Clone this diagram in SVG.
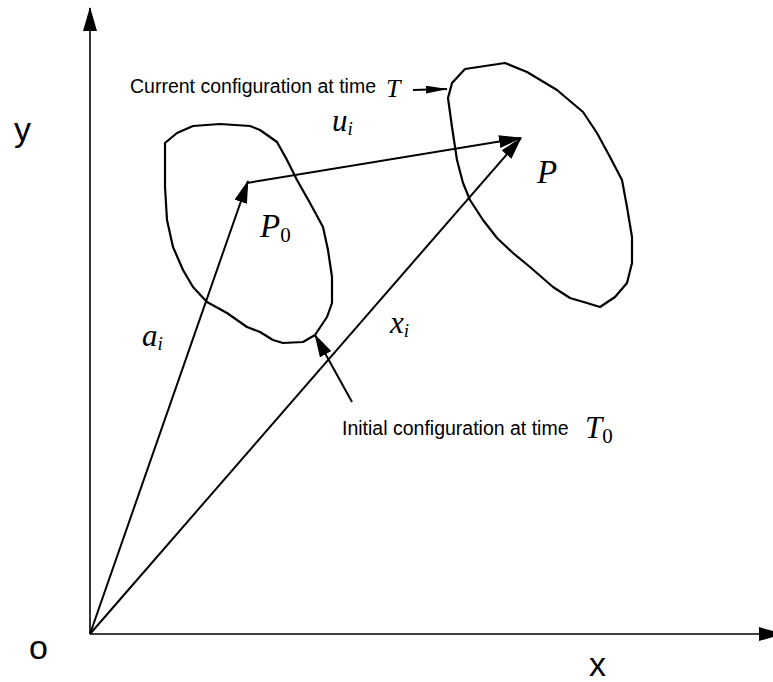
<svg xmlns="http://www.w3.org/2000/svg" width="773" height="682" viewBox="0 0 773 682">
<style>
.ax{stroke:#000;stroke-width:1.6;fill:none}
.vec{stroke:#000;stroke-width:2;fill:none}
.blob{stroke:#000;stroke-width:2.2;fill:none;stroke-linejoin:round}
.lbl{font-family:"Liberation Sans",Arial,sans-serif;font-size:19.5px;fill:#000}
.axl{font-family:"Liberation Sans",Arial,sans-serif;font-size:34px;fill:#000}
.m{font-family:"Liberation Serif","Times New Roman",serif;font-style:italic;fill:#000}
.sub{font-family:"Liberation Serif","Times New Roman",serif;font-style:normal;fill:#000}
</style>
<defs>
<marker id="ah" viewBox="0 0 23 13" markerWidth="23" markerHeight="13" refX="22" refY="6.5" orient="auto" markerUnits="userSpaceOnUse"><path d="M0,0 L23,6.5 L0,13 Z" fill="#000"/></marker>
<marker id="axh" viewBox="0 0 24 14" markerWidth="24" markerHeight="14" refX="23" refY="7" orient="auto" markerUnits="userSpaceOnUse"><path d="M0,0 L24,7 L0,14 Z" fill="#000"/></marker>
<marker id="sh" viewBox="0 0 22 8" markerWidth="22" markerHeight="8" refX="21" refY="4" orient="auto" markerUnits="userSpaceOnUse"><path d="M0,0 L22,4 L0,8 Z" fill="#000"/></marker>
</defs>
<rect width="773" height="682" fill="#fff"/>
<g id="axes">
<line class="ax" x1="90" y1="634" x2="90" y2="8" marker-end="url(#axh)"/>
<line class="ax" x1="90" y1="634" x2="782" y2="634" marker-end="url(#axh)"/>
<text class="axl" x="14" y="141">y</text>
<text class="axl" x="29" y="659">o</text>
<text class="axl" x="589" y="676">x</text>
</g>
<g id="initial-body">
<path class="blob" d="M177,133 L193,126 L220,124 L250,126 L260,130 L277,142 L287,160 L297,180 L310,203 L323,227 L328,250 L332,277 L332,303 L327,317 L315,335 L303,342 L283,343 L273,340 L260,332 L247,327 L227,313 L207,302 L193,287 L183,270 L173,247 L167,220 L165,187 L165,143 Z"/>
<text class="m" x="260" y="237" font-size="33">P<tspan class="sub" font-size="21" dy="5">0</tspan></text>
</g>
<g id="current-body">
<path class="blob" d="M465,69 L505,63 L527,72 L557,90 L583,112 L597,133 L610,157 L622,180 L627,207 L632,237 L632,263 L627,283 L615,297 L600,307 L587,303 L570,298 L553,287 L530,267 L513,253 L497,238 L483,220 L470,200 L463,183 L457,160 L452,127 L448,98 L452,83 Z"/>
<text class="m" x="537" y="183" font-size="33">P</text>
</g>
<g id="connectors">
<line class="vec" x1="90" y1="634" x2="248" y2="181" marker-end="url(#ah)"/>
<line class="vec" x1="90" y1="634" x2="521" y2="138" marker-end="url(#ah)"/>
<line class="vec" x1="247" y1="183" x2="521" y2="138" marker-end="url(#ah)"/>
<line class="vec" x1="413" y1="90" x2="447" y2="89" marker-end="url(#sh)"/>
<line class="vec" x1="352" y1="402" x2="315" y2="335" marker-end="url(#ah)"/>
</g>
<g id="vector-labels">
<text class="m" x="332" y="131" font-size="31">u<tspan font-size="19" dy="4">i</tspan></text>
<text class="m" x="142" y="346" font-size="31">a<tspan font-size="19" dy="4">i</tspan></text>
<text class="m" x="390" y="333" font-size="31">x<tspan font-size="19" dy="4">i</tspan></text>
</g>
<g id="current-label">
<text class="lbl" x="130" y="93">Current configuration at time</text>
<text class="m" x="386" y="97" font-size="26">T</text>
</g>
<g id="initial-label">
<text class="lbl" x="342" y="435">Initial configuration at time</text>
<text class="m" x="585" y="438" font-size="31">T<tspan class="sub" font-size="21" dy="5">0</tspan></text>
</g>
</svg>
